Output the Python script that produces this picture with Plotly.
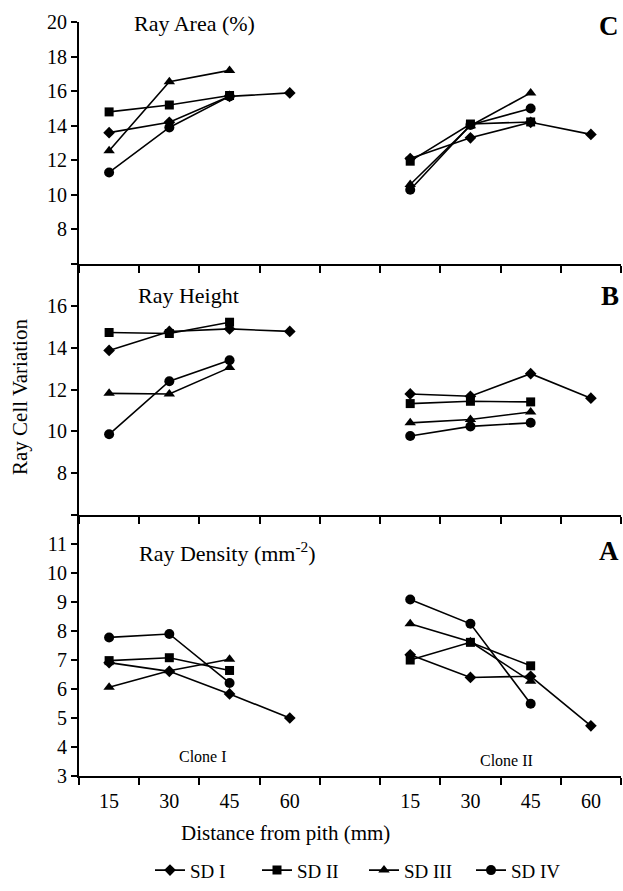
import plotly.graph_objects as go

# ---------------- data ----------------
distance_labels = ["15", "30", "45", "60"]
series_names = ["SD I", "SD II", "SD III", "SD IV"]

# Ray Area (%)  (panel C)
area_clone1 = {
    "SD I":   [13.6, 14.2, 15.7, 15.9],
    "SD II":  [14.8, 15.2, 15.75, None],
    "SD III": [12.55, 16.55, 17.2, None],
    "SD IV":  [11.3, 13.9, 15.7, None],
}
area_clone2 = {
    "SD I":   [12.1, 13.3, 14.2, 13.5],
    "SD II":  [11.95, 14.1, 14.22, None],
    "SD III": [10.6, 14.0, 15.9, None],
    "SD IV":  [10.3, 14.05, 15.0, None],
}

# Ray Height (panel B)
height_clone1 = {
    "SD I":   [13.87, 14.78, 14.9, 14.78],
    "SD II":  [14.73, 14.68, 15.22, None],
    "SD III": [11.82, 11.79, 13.05, None],
    "SD IV":  [9.86, 12.4, 13.4, None],
}
height_clone2 = {
    "SD I":   [11.79, 11.68, 12.76, 11.59],
    "SD II":  [11.33, 11.44, 11.41, None],
    "SD III": [10.41, 10.57, 10.93, None],
    "SD IV":  [9.78, 10.24, 10.41, None],
}

# Ray Density (mm-2) (panel A)
density_clone1 = {
    "SD I":   [6.91, 6.61, 5.83, 5.0],
    "SD II":  [6.98, 7.08, 6.64, None],
    "SD III": [6.06, 6.63, 7.03, None],
    "SD IV":  [7.78, 7.9, 6.21, None],
}
density_clone2 = {
    "SD I":   [7.18, 6.4, 6.44, 4.73],
    "SD II":  [7.0, 7.61, 6.8, None],
    "SD III": [8.25, 7.63, 6.27, None],
    "SD IV":  [9.09, 8.25, 5.49, None],
}

# ---------------- styling ----------------
symbols = {"SD I": "diamond", "SD II": "square", "SD III": "triangle-up", "SD IV": "circle"}
msizes = {"SD I": 9, "SD II": 9, "SD III": 10, "SD IV": 10}
FONT = "Liberation Serif"

n = len(distance_labels)
# slots: clone I (0..3), gap (4), clone II (5..8)
x_slots = list(range(2 * n + 1))
tick_vals = [i for i in range(n)] + [n + 1 + i for i in range(n)]
tick_text = distance_labels + distance_labels

fig = go.Figure()

panels = [
    ("y3", "x3", area_clone1, area_clone2),
    ("y2", "x2", height_clone1, height_clone2),
    ("y", "x", density_clone1, density_clone2),
]

for pi, (ya, xa, c1, c2) in enumerate(panels):
    for name in series_names:
        yvals = list(c1[name]) + [None] + list(c2[name])
        fig.add_trace(go.Scatter(
            x=x_slots, y=yvals, mode="lines+markers", name=name,
            xaxis=xa, yaxis=ya,
            line=dict(color="black", width=1.6),
            marker=dict(symbol=symbols[name], size=msizes[name], color="black"),
            showlegend=(pi == 2), connectgaps=False,
        ))

W, H = 623, 891
# plot area in screen pixels
X0, X1, Y0, Y1 = 79, 621, 22, 782
L, R, T, B = X0, W - X1, Y0, H - Y1
ph = Y1 - Y0
pw = X1 - X0


def py(p):
    return (Y1 - p) / ph


def px(p):
    return (p - X0) / pw


xcommon = dict(
    range=[-0.5, 2 * n + 0.5], showline=True, linecolor="black", linewidth=2,
    showgrid=False, zeroline=False, ticks="", tickvals=tick_vals,
    minor=dict(tickmode="linear", tick0=-0.5, dtick=1, ticks="outside",
               ticklen=7, tickwidth=1.5, tickcolor="black", showgrid=False),
)
ycommon = dict(
    showline=True, linecolor="black", linewidth=2, showgrid=False, zeroline=False,
    ticks="outside", ticklen=6, tickwidth=1.5, tickcolor="black",
    tickfont=dict(family=FONT, size=20, color="black"),
)

dom_bottom = [0, py(519)]
dom_mid = [py(519), py(266)]
dom_top = [py(266), 1]

fig.update_layout(
    width=W, height=H,
    margin=dict(l=L, r=R, t=T, b=B),
    paper_bgcolor="white", plot_bgcolor="white",
    font=dict(family=FONT, color="black"),
    xaxis=dict(**xcommon, anchor="y", ticktext=tick_text, showticklabels=True,
               ticklabelstandoff=6,
               tickfont=dict(family=FONT, size=20, color="black")),
    xaxis2=dict(**xcommon, anchor="y2", matches="x", showticklabels=False),
    xaxis3=dict(**xcommon, anchor="y3", matches="x", showticklabels=False),
    yaxis=dict(**ycommon, domain=dom_bottom, range=[3, 12],
               tickvals=[3, 4, 5, 6, 7, 8, 9, 10, 11], anchor="x"),
    yaxis2=dict(**ycommon, domain=dom_mid, range=[6, 18],
                tickvals=[6, 8, 10, 12, 14, 16], ticktext=["", "8", "10", "12", "14", "16"], anchor="x2"),
    yaxis3=dict(**ycommon, domain=dom_top, range=[6, 20],
                tickvals=[6, 8, 10, 12, 14, 16, 18, 20],
                ticktext=["", "8", "10", "12", "14", "16", "18", "20"], anchor="x3"),
    legend=dict(orientation="h", x=px(150), xanchor="left", y=py(877), yanchor="middle",
                font=dict(family=FONT, size=19, color="black"),
                entrywidth=62, entrywidthmode="pixels", bgcolor="rgba(0,0,0,0)"),
)

ann = []


def add(text, x, y, size, xanchor="left", bold=False, angle=0):
    ann.append(dict(text=("<b>%s</b>" % text) if bold else text, x=x, y=y,
                    xref="paper", yref="paper", xanchor=xanchor, yanchor="middle",
                    showarrow=False, textangle=angle,
                    font=dict(family=FONT, size=size, color="black")))


add("Ray Area (%)", px(132), py(24), 22)
add("Ray Height", px(136), py(298), 22)
add("Ray Density (mm<sup>-2</sup>)", px(137), py(556), 22)
add("C", 1.0, py(26), 27, xanchor="right", bold=True)
add("B", 1.0, py(298), 27, xanchor="right", bold=True)
add("A", 1.0, py(555), 27, xanchor="right", bold=True)
add("Clone I", px(203), py(762), 16, xanchor="center")
add("Clone II", px(506), py(766), 16, xanchor="center")
add("Distance from pith (mm)", px(285), py(839), 21, xanchor="center")
add("Ray Cell Variation", px(20), py(400), 21, xanchor="center", angle=-90)
fig.update_layout(annotations=ann)

# remove the default page margin so the figure fills the window exactly
fig.write_html("out.html", config={"displayModeBar": False},
               post_script="document.body.style.margin='0';document.body.style.overflow='hidden';")
